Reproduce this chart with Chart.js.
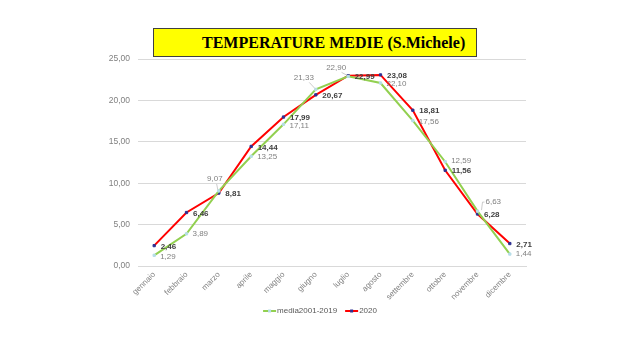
<!DOCTYPE html>
<html><head><meta charset="utf-8">
<script src="https://cdn.jsdelivr.net/npm/chart.js@4/dist/chart.umd.min.js"></script>
<style>
html,body{margin:0;padding:0;background:#fff;}
#wrap{position:relative;width:640px;height:360px;}
#title{position:absolute;left:153px;top:28px;width:322px;height:27px;background:#ffff00;border:1px solid #404040;
font-family:"Liberation Serif","Times New Roman",serif;font-weight:bold;font-size:16px;line-height:28px;color:#000;}
#title span{position:absolute;left:48px;top:0;white-space:nowrap;}
</style></head><body>
<div id="wrap"><canvas id="c" width="640" height="360"></canvas>
<div id="title"><span>TEMPERATURE MEDIE (S.Michele)</span></div></div>
<script>
const categories=["gennaio","febbraio","marzo","aprile","maggio","giugno","luglio","agosto","settembre","ottobre","novembre","dicembre"];
const media=[1.29,3.89,9.07,13.25,17.11,21.33,22.90,22.10,17.56,12.59,6.63,1.44];
const y2020=[2.46,6.46,8.81,14.44,17.99,20.67,22.99,23.08,18.81,11.56,6.28,2.71];
const seriesNames=["media2001-2019","2020"];
// label placement for media series: [dx, dy, align, leader]
const mediaLabelPos=[[6,1,"left",0],[6,0,"left",0],[-4,-12,"center",1],[6,1,"left",0],[6,1,"left",0],[-12,-12,"center",1],[-12,-9,"center",1],[6,1,"left",0],[6,1,"left",0],[6,-1,"left",0],[8,-9,"left",1],[6,0,"left",0]];

const fmt=v=>v.toFixed(2).replace('.',',');
const FONT='"Liberation Sans", Arial, sans-serif';

const labelsPlugin={
  id:'lbls',
  afterDatasetsDraw(chart){
    const ctx=chart.ctx;
    ctx.save();
    const m0=chart.getDatasetMeta(0), m1=chart.getDatasetMeta(1);
    ctx.textBaseline='middle';
    ctx.font='8px '+FONT;
    m0.data.forEach((p,i)=>{
      const [dx,dy,al,leader]=mediaLabelPos[i];
      const tx=p.x+dx, ty=p.y+dy;
      if(leader){
        ctx.strokeStyle='#bfbfbf';ctx.lineWidth=0.8;ctx.beginPath();
        if(al==='left'){ctx.moveTo(p.x+4,p.y-1);ctx.lineTo(p.x+5,ty);ctx.lineTo(tx-1,ty);}
        else{ctx.moveTo(tx+(p.x-tx)*0.45,ty+5);ctx.lineTo(p.x-1,p.y-1);}
        ctx.stroke();
      }
      ctx.fillStyle='#808080';ctx.textAlign=al;
      ctx.fillText(fmt(media[i]),tx,ty);
    });
    ctx.font='bold 8px '+FONT;
    ctx.fillStyle='#404040';ctx.textAlign='left';
    m1.data.forEach((p,i)=>{ctx.fillText(fmt(y2020[i]),p.x+6.5,p.y+1);});
    const ly=311;
    const items=[{t:seriesNames[0],c:'#92d050',m:'#b7dee8'},{t:seriesNames[1],c:'#ff0000',m:'#2e3192'}];
    ctx.font='8px '+FONT;
    const w0=ctx.measureText(items[0].t).width, w1=ctx.measureText(items[1].t).width;
    const total=14+w0+8+14+w1;
    let x=320-total/2;
    items.forEach((it,k)=>{
      ctx.strokeStyle=it.c;ctx.lineWidth=2;ctx.beginPath();ctx.moveTo(x,ly);ctx.lineTo(x+13,ly);ctx.stroke();
      ctx.fillStyle=it.m;ctx.fillRect(x+5,ly-1.5,3,3);
      ctx.fillStyle='#595959';ctx.textAlign='left';ctx.fillText(it.t,x+14,ly);
      x+=14+(k===0?w0:w1)+8;
    });
    ctx.restore();
  }
};

new Chart(document.getElementById('c'),{
  type:'line',
  data:{labels:categories,datasets:[
    {label:seriesNames[0],data:media,borderColor:'#92d050',borderWidth:2,pointStyle:'rect',pointRadius:1.6,pointBackgroundColor:'#b7dee8',pointBorderColor:'#b7dee8',pointBorderWidth:1,tension:0},
    {label:seriesNames[1],data:y2020,borderColor:'#ff0000',borderWidth:2,pointStyle:'rect',pointRadius:1.6,pointBackgroundColor:'#2e3192',pointBorderColor:'#2e3192',pointBorderWidth:1,tension:0}
  ]},
  options:{
    responsive:false,animation:false,
    layout:{padding:{left:96,right:114,top:59,bottom:29}},
    plugins:{legend:{display:false},title:{display:false},tooltip:{enabled:false}},
    scales:{
      x:{offset:true,grid:{display:false,drawTicks:false},border:{display:true,color:'#d9d9d9'},
         ticks:{color:'#808080',font:{size:8,family:FONT},maxRotation:45,minRotation:45,padding:4},
         afterFit(s){s.height=65;}},
      y:{min:0,max:25,grid:{color:'#d9d9d9',drawTicks:false},border:{display:false},
         ticks:{stepSize:5,color:'#808080',padding:8,font:{size:8.5,family:FONT},callback:v=>fmt(v)},
         afterFit(s){s.width=42;}}
    }
  },
  plugins:[labelsPlugin]
});
</script></body></html>
